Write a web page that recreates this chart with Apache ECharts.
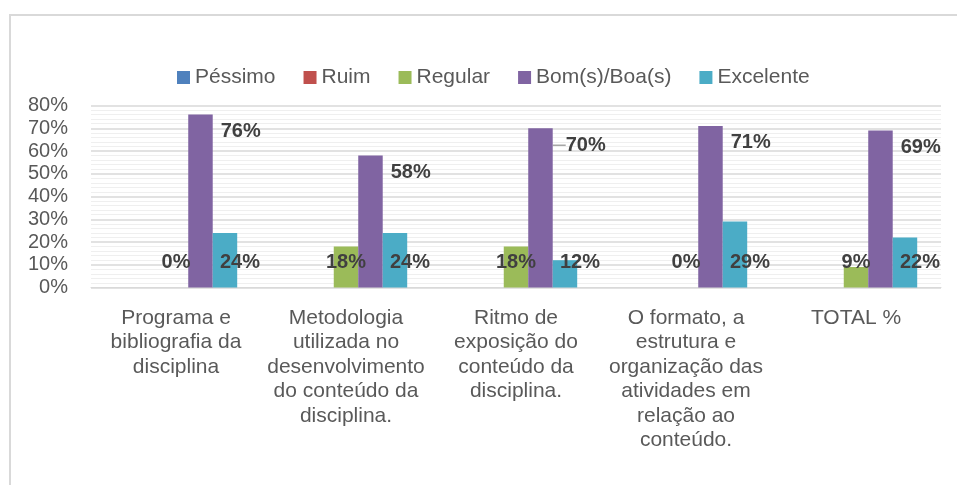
<!DOCTYPE html>
<html>
<head>
<meta charset="utf-8">
<script src="https://cdn.jsdelivr.net/npm/echarts@6/dist/echarts.min.js"></script>
<style>
  html, body { margin: 0; padding: 0; background: #ffffff; }
  #chart { width: 957px; height: 485px; }
</style>
</head>
<body>
<div id="chart"></div>
<script>
const categories = [
  "Programa e\nbibliografia da\ndisciplina",
  "Metodologia\nutilizada no\ndesenvolvimento\ndo conteúdo da\ndisciplina.",
  "Ritmo de\nexposição do\nconteúdo da\ndisciplina.",
  "O formato, a\nestrutura e\norganização das\natividades em\nrelação ao\nconteúdo.",
  "TOTAL %"
];
const seriesNames = ["Péssimo", "Ruim", "Regular", "Bom(s)/Boa(s)", "Excelente"];
const pessimo = [0, 0, 0, 0, 0];
const ruim = [0, 0, 0, 0, 0];
const regular = [0, 18, 18, 0, 9];
const bom = [76, 58, 70, 71, 69];
const excelente = [24, 24, 12, 29, 22];
const yTicks = [0, 10, 20, 30, 40, 50, 60, 70, 80];

const colors = ["#4f81bd", "#c0504d", "#9bbb59", "#8064a2", "#4bacc6"];
const FONT = "'Liberation Sans', Arial, sans-serif";

const labelBase = {
  show: true,
  fontFamily: FONT,
  fontSize: 20,
  fontWeight: 'bold',
  color: '#404040',
  formatter: p => Math.round(p.value) + '%'
};

function makeSeries(name, data, color, label) {
  return {
    name: name,
    type: 'bar',
    data: data,
    barGap: '0%',
    barCategoryGap: '28%',
    itemStyle: { color: color },
    label: label || { show: false },
    emphasis: { disabled: true },
    animation: false
  };
}

// Bom series: the third label is pulled aside with a leader line, as in the source
const bomData = bom.map((v, i) => i === 2 ? {
  value: v,
  label: { offset: [13, 0] },
  labelLine: { show: true, lineStyle: { color: '#a6a6a6', width: 1.5 } }
} : v);

const chart = echarts.init(document.getElementById('chart'), null, { renderer: 'canvas' });
chart.setOption({
  animation: false,
  color: colors,
  graphic: [{
    type: 'rect',
    shape: { x: 10, y: 15, width: 980, height: 520 },
    style: { fill: null, stroke: '#d9d9d9', lineWidth: 2 },
    silent: true,
    z: -1
  }],
  legend: {
    data: seriesNames,
    left: 177,
    top: 67,
    padding: 0,
    itemWidth: 13,
    itemHeight: 13,
    itemGap: 28,
    icon: 'rect',
    textStyle: { fontFamily: FONT, fontSize: 21, color: '#595959' }
  },
  grid: { left: 91, right: 16, top: 105.5, bottom: 197.5, containLabel: false },
  xAxis: {
    type: 'category',
    data: categories,
    axisTick: { show: false },
    axisLine: { show: true, lineStyle: { color: '#d9d9d9', width: 1 } },
    axisLabel: {
      interval: 0,
      margin: 18,
      fontFamily: FONT,
      fontSize: 21,
      lineHeight: 24.5,
      color: '#595959',
      align: 'center',
      verticalAlign: 'top'
    }
  },
  yAxis: {
    type: 'value',
    min: yTicks[0],
    max: yTicks[yTicks.length - 1],
    interval: yTicks[1] - yTicks[0],
    axisLine: { show: false },
    axisTick: { show: false },
    axisLabel: {
      formatter: '{value}%',
      margin: 23,
      fontFamily: FONT,
      fontSize: 20,
      color: '#595959'
    },
    splitLine: { show: true, lineStyle: { color: '#d9d9d9', width: 1.5 } },
    minorTick: { show: false, splitNumber: 5 },
    minorSplitLine: { show: true, lineStyle: { color: '#efefef', width: 1 } }
  },
  series: [
    makeSeries(seriesNames[0], pessimo, colors[0]),
    makeSeries(seriesNames[1], ruim, colors[1]),
    makeSeries(seriesNames[2], regular, colors[2], Object.assign({}, labelBase, {
      position: 'insideBottom', distance: 5, offset: [0, -10]
    })),
    Object.assign(makeSeries(seriesNames[3], bomData, colors[3], Object.assign({}, labelBase, {
      position: ['100%', 17], align: 'left', verticalAlign: 'middle', offset: [8, 0]
    })), { labelLine: { show: false } }),
    makeSeries(seriesNames[4], excelente, colors[4], Object.assign({}, labelBase, {
      position: 'insideBottom', distance: 5, offset: [15, -10]
    }))
  ]
});
</script>
</body>
</html>
